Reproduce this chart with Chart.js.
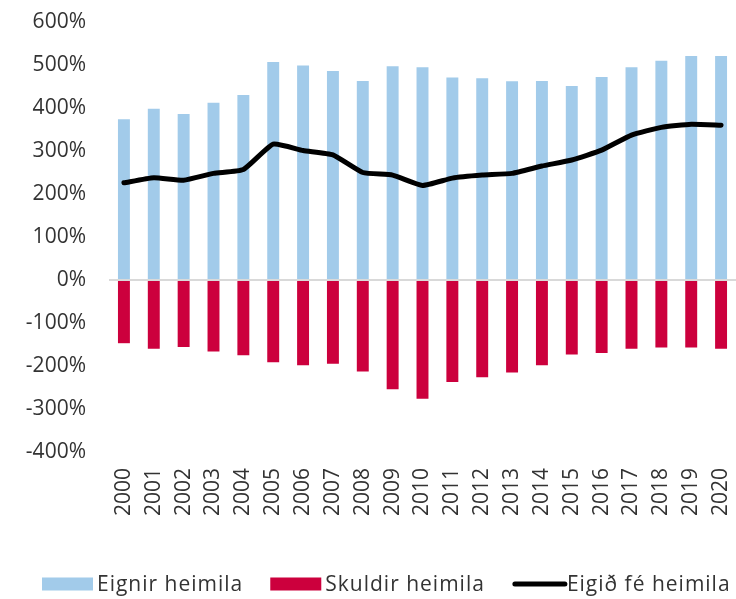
<!DOCTYPE html>
<html>
<head>
<meta charset="utf-8">
<script src="https://cdn.jsdelivr.net/npm/chart.js@4.4.0/dist/chart.umd.min.js"></script>
<style>
  html, body { margin: 0; padding: 0; background: #fff; }
</style>
</head>
<body>
<canvas id="myChart" width="736" height="599"></canvas>
<script>
const years = ['2000','2001','2002','2003','2004','2005','2006','2007','2008','2009','2010',
               '2011','2012','2013','2014','2015','2016','2017','2018','2019','2020'];
const eignir = [374, 398, 386, 412, 430, 507, 499, 486, 463, 497, 495,
                471, 469, 462, 463, 451, 472, 495, 510, 521, 521];
const skuldir = [-147, -160, -156, -166, -175, -191, -198, -195, -213, -254, -276,
                 -237, -226, -215, -198, -173, -170, -160, -157, -157, -160];
const eigidFe = [226, 238, 232, 248, 257, 316, 301, 291, 250, 244, 220,
                 237, 244, 248, 265, 279, 302, 337, 355, 362, 360];
const seriesNames = ['Eignir heimila', 'Skuldir heimila', 'Eigið fé heimila'];
const yTicks = [-400, -300, -200, -100, 0, 100, 200, 300, 400, 500, 600];

const FONT = '"Open Sans", "Noto Sans", sans-serif';
const TEXT = '#333333';

// legend drawn by hand so the spacing matches the original
const bottomLegend = {
    id: 'bottomLegend',
    afterDraw(chart) {
        const c = chart.ctx;
        const y = 584;
        let x = 42;
        c.save();
        c.font = '21px ' + FONT;
        c.letterSpacing = '1px';
        c.textBaseline = 'middle';
        [1, 2, 0].forEach(i => {
            const ds = chart.data.datasets[i];
            if (ds.type === 'line') {
                c.strokeStyle = ds.borderColor;
                c.lineWidth = 5;
                c.lineCap = 'round';
                c.beginPath();
                c.moveTo(x + 3, y);
                c.lineTo(x + 53, y);
                c.stroke();
            } else {
                c.fillStyle = ds.backgroundColor;
                c.fillRect(x, y - 6.5, 51, 13);
            }
            x += 55;
            c.fillStyle = TEXT;
            c.fillText(ds.label, x, y + 1);
            x += c.measureText(ds.label).width + 27;
        });
        c.restore();
    }
};

window.onload = () => {
    const ctx = document.getElementById('myChart').getContext('2d');

    new Chart(ctx, {
        data: {
            labels: years,
            datasets: [
                {
                    type: 'line',
                    label: seriesNames[2],
                    data: eigidFe,
                    borderColor: '#000000',
                    backgroundColor: '#000000',
                    borderWidth: 5,
                    pointRadius: 0,
                    tension: 0.15,
                    borderCapStyle: 'round',
                    borderJoinStyle: 'round',
                    order: 0
                },
                {
                    type: 'bar',
                    label: seriesNames[0],
                    data: eignir,
                    backgroundColor: '#a2cbea',
                    grouped: false,
                    barPercentage: 0.4,
                    categoryPercentage: 1,
                    order: 1
                },
                {
                    type: 'bar',
                    label: seriesNames[1],
                    data: skuldir,
                    backgroundColor: '#cc003d',
                    grouped: false,
                    barPercentage: 0.4,
                    categoryPercentage: 1,
                    order: 1
                }
            ]
        },
        plugins: [bottomLegend],
        options: {
            responsive: false,
            animation: false,
            layout: { padding: 0 },
            plugins: {
                legend: { display: false },
                tooltip: { enabled: false }
            },
            scales: {
                x: {
                    border: { display: false },
                    grid: { display: false, drawTicks: false },
                    afterFit: (scale) => {
                        scale.height = 147;
                        scale.paddingLeft = 0;
                        scale.paddingRight = 0;
                    },
                    ticks: {
                        color: TEXT,
                        minRotation: 90,
                        maxRotation: 90,
                        padding: 16,
                        font: { family: FONT, size: 21 }
                    }
                },
                y: {
                    min: -400,
                    max: 600,
                    border: { display: false },
                    afterFit: (scale) => {
                        scale.width = 109;
                        scale.paddingTop = 22;
                        scale.paddingBottom = 0;
                    },
                    afterBuildTicks: (scale) => {
                        scale.ticks = yTicks.map(v => ({ value: v }));
                    },
                    grid: {
                        drawTicks: false,
                        color: (c) => c.tick && c.tick.value === 0 ? '#d9d9d9' : 'rgba(0,0,0,0)',
                        lineWidth: (c) => c.tick && c.tick.value === 0 ? 2 : 0
                    },
                    ticks: {
                        color: TEXT,
                        padding: 23,
                        font: { family: FONT, size: 21 },
                        callback: (value) => value + '%'
                    }
                }
            }
        }
    });
};
</script>
</body>
</html>
